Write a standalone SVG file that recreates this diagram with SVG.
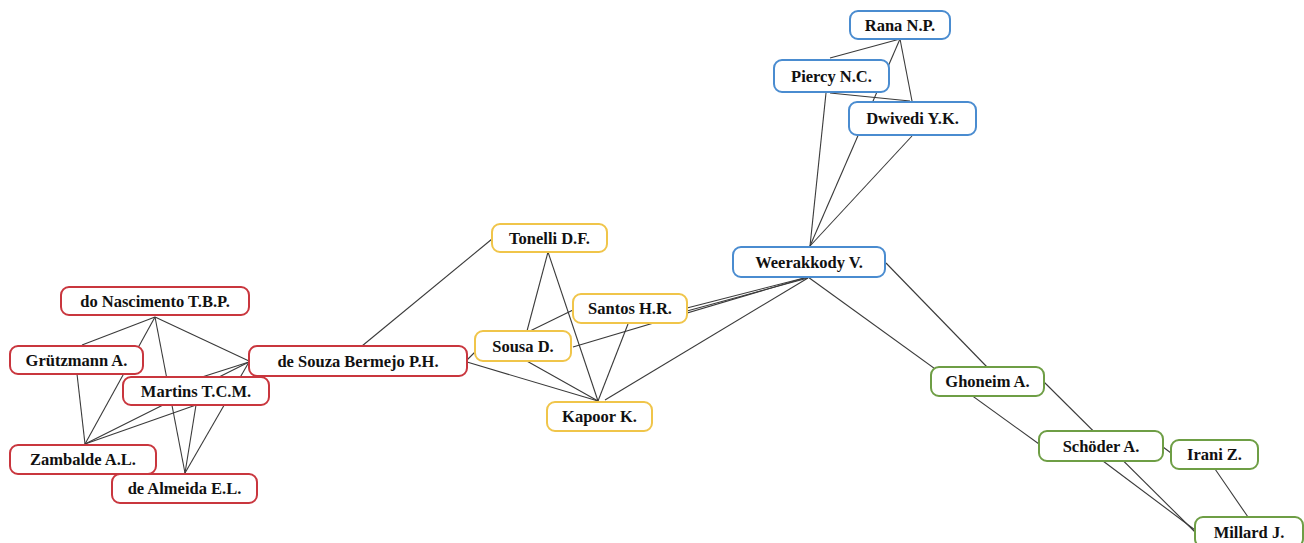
<svg xmlns="http://www.w3.org/2000/svg" width="1304" height="543" viewBox="0 0 1304 543">
<style>
.n rect{fill:#fff;stroke-width:2}
.r rect{stroke:#c9363e}
.y rect{stroke:#f0c54a}
.b rect{stroke:#4a8cd0}
.g rect{stroke:#6e9e45}
.n text{font-family:"Liberation Serif","Times New Roman",serif;font-weight:bold;font-size:16.5px;fill:#111;text-anchor:middle}
#edges line{stroke:#3a3a3a;stroke-width:1.1}
</style>
<rect width="1304" height="543" fill="#fff"/>
<g id="edges">
<line x1="155" y1="317" x2="82" y2="345"/>
<line x1="155" y1="317" x2="85" y2="444"/>
<line x1="155" y1="317" x2="185" y2="473"/>
<line x1="155" y1="317" x2="249" y2="361"/>
<line x1="77" y1="374" x2="85" y2="444"/>
<line x1="196" y1="405" x2="85" y2="444"/>
<line x1="196" y1="405" x2="185" y2="473"/>
<line x1="249" y1="362" x2="85" y2="444"/>
<line x1="249" y1="362" x2="185" y2="473"/>
<line x1="249" y1="362" x2="202" y2="377"/>
<line x1="362" y1="346" x2="492" y2="239"/>
<line x1="467" y1="360" x2="477" y2="350"/>
<line x1="467" y1="362" x2="598" y2="401"/>
<line x1="548" y1="252" x2="527" y2="331"/>
<line x1="548" y1="252" x2="598" y2="401"/>
<line x1="530" y1="331" x2="573" y2="310"/>
<line x1="525" y1="360" x2="598" y2="401"/>
<line x1="628" y1="324" x2="598" y2="401"/>
<line x1="573" y1="347" x2="808" y2="277"/>
<line x1="687" y1="308" x2="808" y2="277"/>
<line x1="687" y1="311" x2="808" y2="278"/>
<line x1="605" y1="400" x2="808" y2="278"/>
<line x1="900" y1="39" x2="830" y2="58"/>
<line x1="900" y1="39" x2="912" y2="101"/>
<line x1="900" y1="39" x2="810" y2="246"/>
<line x1="830" y1="93" x2="910" y2="101"/>
<line x1="826" y1="93" x2="810" y2="246"/>
<line x1="912" y1="136" x2="810" y2="246"/>
<line x1="886" y1="263" x2="987" y2="367"/>
<line x1="808" y1="277" x2="1039" y2="444"/>
<line x1="1044" y1="382" x2="1195" y2="532"/>
<line x1="1103" y1="461" x2="1195" y2="530"/>
<line x1="1163" y1="447" x2="1171" y2="453"/>
<line x1="1215" y1="469" x2="1248" y2="517"/>
</g>
<g id="n-nascimento" class="n r"><rect x="61" y="287" width="188" height="28" rx="8"/><text x="155" y="307">do Nascimento T.B.P.</text></g>
<g id="n-grutzmann" class="n r"><rect x="10" y="346" width="133" height="28" rx="8"/><text x="76.5" y="366">Grützmann A.</text></g>
<g id="n-bermejo" class="n r"><rect x="249" y="346" width="218" height="30" rx="8"/><text x="358" y="367">de Souza Bermejo P.H.</text></g>
<g id="n-martins" class="n r"><rect x="123" y="377" width="146" height="28" rx="8"/><text x="196" y="397">Martins T.C.M.</text></g>
<g id="n-zambalde" class="n r"><rect x="10" y="445" width="146" height="29" rx="8"/><text x="83" y="465">Zambalde A.L.</text></g>
<g id="n-almeida" class="n r"><rect x="112" y="474" width="145" height="29" rx="8"/><text x="184.5" y="494">de Almeida E.L.</text></g>
<g id="n-tonelli" class="n y"><rect x="492" y="224" width="115" height="28" rx="8"/><text x="549.5" y="244">Tonelli D.F.</text></g>
<g id="n-santos" class="n y"><rect x="573" y="294" width="114" height="29" rx="8"/><text x="630" y="314">Santos H.R.</text></g>
<g id="n-sousa" class="n y"><rect x="475" y="331" width="96" height="30" rx="8"/><text x="523" y="352">Sousa D.</text></g>
<g id="n-kapoor" class="n y"><rect x="547" y="402" width="105" height="29" rx="8"/><text x="599.5" y="422">Kapoor K.</text></g>
<g id="n-rana" class="n b"><rect x="850" y="11" width="100" height="28" rx="8"/><text x="900" y="31">Rana N.P.</text></g>
<g id="n-piercy" class="n b"><rect x="774" y="60" width="115" height="32" rx="8"/><text x="831.5" y="82">Piercy N.C.</text></g>
<g id="n-dwivedi" class="n b"><rect x="849" y="102" width="127" height="33" rx="8"/><text x="912.5" y="124">Dwivedi Y.K.</text></g>
<g id="n-weerakkody" class="n b"><rect x="733" y="247" width="152" height="30" rx="8"/><text x="809" y="268">Weerakkody V.</text></g>
<g id="n-ghoneim" class="n g"><rect x="931" y="367" width="113" height="29" rx="8"/><text x="987.5" y="387">Ghoneim A.</text></g>
<g id="n-schoder" class="n g"><rect x="1039" y="431" width="124" height="30" rx="8"/><text x="1101" y="452">Schöder A.</text></g>
<g id="n-irani" class="n g"><rect x="1171" y="440" width="87" height="29" rx="8"/><text x="1214.5" y="460">Irani Z.</text></g>
<g id="n-millard" class="n g"><rect x="1195" y="517" width="108" height="30" rx="8"/><text x="1249" y="538">Millard J.</text></g>
</svg>
